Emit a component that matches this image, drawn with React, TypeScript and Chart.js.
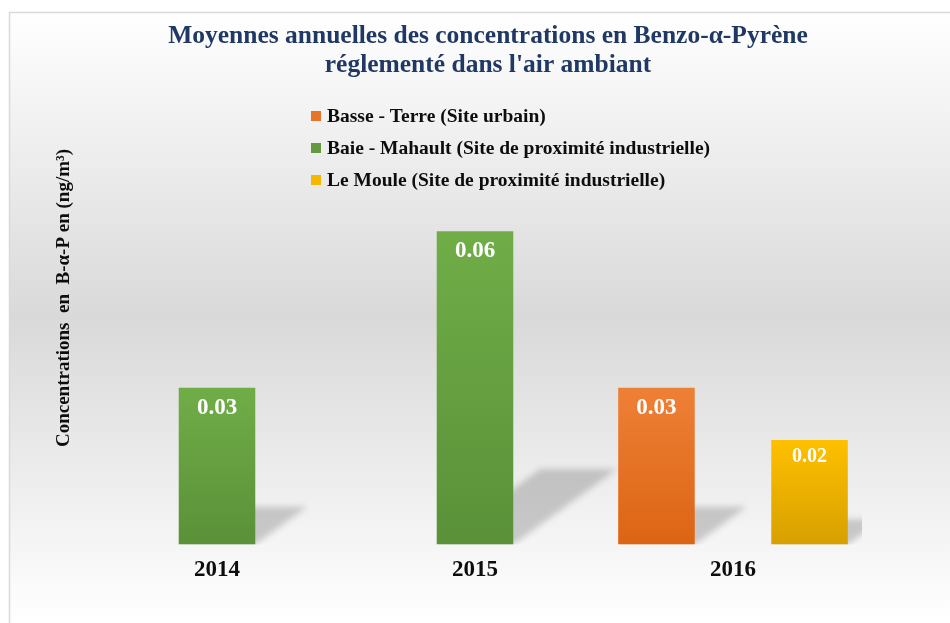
import React, { useEffect, useRef } from 'react';
import { Chart, registerables } from 'chart.js';

Chart.register(...registerables);

// ---- data ----
const categories = ['2014', '2015', '2016'];
const basseTerre = [null, null, 0.03];
const baieMahault = [0.03, 0.06, null];
const leMoule = [null, null, 0.02];
const seriesLabels = [
  'Basse - Terre (Site urbain)',
  'Baie - Mahault (Site de proximité industrielle)',
  'Le Moule (Site de proximité industrielle)',
];
const titleLines = ['Moyennes annuelles des concentrations en Benzo-α-Pyrène', "réglementé dans l'air ambiant"];
const yAxisTitle = 'Concentrations  en  B-α-P en (ng/m³)';
const yMin = 0;
const yMax = 0.07;

// ---- styles ----
const SERIF = '"Liberation Serif", "DejaVu Serif", serif';
const topColors = ['#EE8036', '#70AD47', '#FFC000'];
const bottomColors = ['#DC6414', '#5A9139', '#D6A000'];
const legendColors = ['#E8742A', '#63993F', '#F5B800'];
const labelSizes = [23, 23, 20];

function barGradient(c: any, i: number) {
  const chart = c.chart;
  const v = c.raw;
  if (!chart.chartArea || v == null || c.type !== 'data' || !chart.scales.y) return topColors[i];
  const ys = chart.scales.y;
  const yTop = ys.getPixelForValue(v);
  const yBot = ys.getPixelForValue(0);
  const g = chart.ctx.createLinearGradient(0, yTop, 0, yBot);
  g.addColorStop(0, topColors[i]);
  g.addColorStop(1, bottomColors[i]);
  return g;
}

const backgroundPlugin = {
  id: 'bgFrame',
  beforeDraw(chart: any) {
    const { ctx, width, height } = chart;
    ctx.save();
    ctx.fillStyle = '#ffffff';
    ctx.fillRect(0, 0, width, height);
    const g = ctx.createLinearGradient(0, 12, 0, height);
    g.addColorStop(0, '#ffffff');
    g.addColorStop(0.5, '#d9d9d9');
    g.addColorStop(1, '#ffffff');
    ctx.fillStyle = g;
    ctx.fillRect(9, 12, width - 9, height - 12);
    ctx.strokeStyle = '#d9d9d9';
    ctx.lineWidth = 1.5;
    ctx.beginPath();
    ctx.moveTo(9.5, height);
    ctx.lineTo(9.5, 12.5);
    ctx.lineTo(width, 12.5);
    ctx.stroke();
    ctx.restore();
  },
};

const shadowPlugin = {
  id: 'barShadow',
  beforeDatasetsDraw(chart: any) {
    const { ctx, chartArea } = chart;
    ctx.save();
    ctx.beginPath();
    ctx.rect(chartArea.left, chartArea.top, chartArea.right - chartArea.left, chartArea.bottom - chartArea.top);
    ctx.clip();
    ctx.filter = 'blur(3px)';
    ctx.fillStyle = 'rgba(0,0,0,0.18)';
    chart.data.datasets.forEach((ds: any, i: number) => {
      const meta = chart.getDatasetMeta(i);
      meta.data.forEach((bar: any, j: number) => {
        if (ds.data[j] == null) return;
        const { x, y, base, width } = bar.getProps(['x', 'y', 'base', 'width'], true);
        const h = base - y;
        const x0 = x - width / 2;
        const x1 = x + width / 2;
        const dx = 0.33 * h;
        const dy = 0.24 * h;
        ctx.beginPath();
        ctx.moveTo(x0, base);
        ctx.lineTo(x1, base);
        ctx.lineTo(x1 + dx, base - dy);
        ctx.lineTo(x0 + dx, base - dy);
        ctx.closePath();
        ctx.fill();
      });
    });
    ctx.restore();
  },
};

const valueLabelPlugin = {
  id: 'valueLabels',
  afterDatasetsDraw(chart: any) {
    const { ctx } = chart;
    ctx.save();
    ctx.fillStyle = '#ffffff';
    ctx.textAlign = 'center';
    ctx.textBaseline = 'middle';
    chart.data.datasets.forEach((ds: any, i: number) => {
      const meta = chart.getDatasetMeta(i);
      meta.data.forEach((bar: any, j: number) => {
        const v = ds.data[j];
        if (v == null) return;
        const size = labelSizes[i];
        ctx.font = `bold ${size}px ${SERIF}`;
        ctx.fillText(v.toFixed(2), bar.x, bar.y + size * 0.86);
      });
    });
    ctx.restore();
  },
};

const textPlugin = {
  id: 'texts',
  afterDraw(chart: any) {
    const { ctx } = chart;
    ctx.save();
    // title
    ctx.fillStyle = '#1F3864';
    ctx.font = `bold 25.5px ${SERIF}`;
    ctx.textAlign = 'center';
    ctx.textBaseline = 'middle';
    titleLines.forEach((t, i) => ctx.fillText(t, 488, 36.5 + i * 29));
    // y axis title
    ctx.save();
    ctx.translate(64, 298);
    ctx.rotate(-Math.PI / 2);
    ctx.fillStyle = '#0d0d0d';
    ctx.font = `bold 19px ${SERIF}`;
    ctx.fillText(yAxisTitle, 0, 0);
    ctx.restore();
    // legend
    ctx.font = `bold 19.5px ${SERIF}`;
    ctx.textAlign = 'left';
    const x = 311;
    const y0 = 116;
    const step = 32;
    chart.data.datasets.forEach((ds: any, i: number) => {
      const y = y0 + i * step;
      ctx.fillStyle = legendColors[i];
      ctx.fillRect(x, y - 5, 10, 10);
      ctx.fillStyle = '#0d0d0d';
      ctx.fillText(ds.label, x + 16, y + 1);
    });
    ctx.restore();
  },
};

export default function App() {
  const ref = useRef<HTMLCanvasElement | null>(null);
  useEffect(() => {
    if (!ref.current) return;
    const chart = new Chart(ref.current, {
      type: 'bar',
      data: {
        labels: categories,
        datasets: [
          { label: seriesLabels[0], data: basseTerre, backgroundColor: (c: any) => barGradient(c, 0) },
          { label: seriesLabels[1], data: baieMahault, backgroundColor: (c: any) => barGradient(c, 1) },
          { label: seriesLabels[2], data: leMoule, backgroundColor: (c: any) => barGradient(c, 2) },
        ] as any,
      },
      options: {
        responsive: false,
        animation: false,
        devicePixelRatio: 1,
        layout: { padding: { left: 88, right: 88, top: 179, bottom: 27 } },
        datasets: { bar: { barPercentage: 1, categoryPercentage: 0.89 } },
        plugins: {
          legend: { display: false },
          tooltip: { enabled: false },
          title: { display: false },
        },
        scales: {
          x: {
            grid: { display: false, drawTicks: false, tickLength: 0 },
            border: { display: false },
            ticks: { color: '#0d0d0d', font: { family: SERIF, size: 23, weight: 'bold' }, padding: 12 },
          },
          y: {
            display: false,
            min: yMin,
            max: yMax,
            grid: { display: false, drawTicks: false, tickLength: 0 },
            border: { display: false },
            ticks: { display: false },
          },
        },
      },
      plugins: [backgroundPlugin, shadowPlugin, valueLabelPlugin, textPlugin],
    });
    return () => chart.destroy();
  }, []);
  return (
    <div style={{ position: 'fixed', left: 0, top: 0, width: 950, height: 623 }}>
      <canvas ref={ref} width={950} height={623} style={{ display: 'block' }} />
    </div>
  );
}
